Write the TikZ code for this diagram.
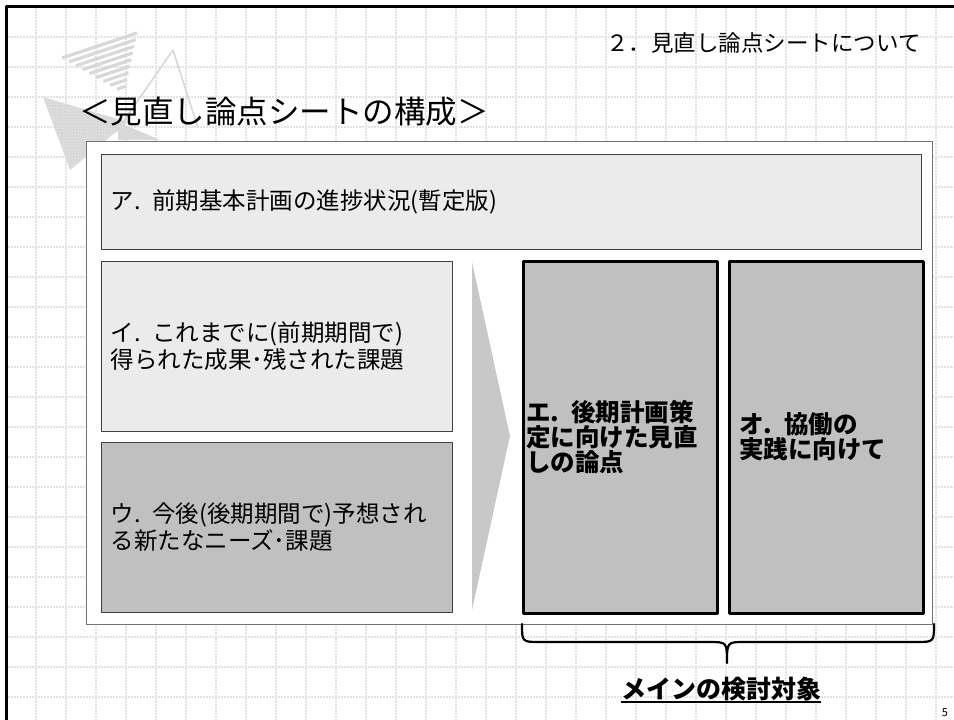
\documentclass[tikz,border=0pt]{standalone}
\usepackage{fontspec}
\setmainfont{Noto Sans CJK JP}
\usetikzlibrary{calc, patterns}

\definecolor{gridgray}{HTML}{E2E2E2}
\definecolor{panelgray}{HTML}{EBEBEB}
\definecolor{fieldgray}{HTML}{C0C0C0}
\definecolor{arrowgray}{HTML}{C8C8C8}
\definecolor{decogray}{HTML}{D8D8D8}

\tikzset{
  gridline/.style={gridgray, line width=1.5pt, dash pattern=on 2pt off 1pt},
  sheetframe/.style={draw=black!55, fill=white, line width=1pt, anchor=north west,
    minimum width=846pt, minimum height=483pt},
  panel/.style={draw=black!75, fill=panelgray, line width=1pt, anchor=north west,
    align=left, inner xsep=9pt, font=\fontsize{23.5}{27}\selectfont},
  field/.style={panel, fill=fieldgray},
  keybox/.style={draw=black, fill=fieldgray, line width=3pt, anchor=north west,
    align=left, minimum height=352pt, font=\fontsize{24.5}{25}\selectfont\bfseries},
  bracestroke/.style={line width=2.2pt, line cap=round},
}

\begin{document}
\begin{tikzpicture}[x=1pt, y=-1pt, line join=round]
\useasboundingbox (0,0) rectangle (954,720);
\fill[white] (0,0) rectangle (954,720);

% dotted background grid
\foreach \gx in {36,66,...,936}
  \draw[gridline] (\gx,8) -- (\gx,720);
\foreach \gy in {37,67,...,727}
  \draw[gridline] (8,\gy) -- (954,\gy);

% page edges
\draw[line width=3pt] (6.5,720) -- (6.5,6.5) -- (954,6.5);

% corner logo
\coordinate (s1) at (62,58);
\coordinate (s2) at (137,33);
\coordinate (s3) at (124,93);
\foreach \k in {0,...,8}
  \draw[decogray, line width=3.2pt]
    ($(s1)!\k/9!(s3)$) -- ($(s2)!\k/9!(s3)$);
\coordinate (d1) at (43,97);
\coordinate (d2) at (128,122);
\coordinate (d3) at (70,170);
\fill[decogray] (d1) -- (d2) -- (d3) -- cycle;
\fill[pattern=dots, pattern color=white] (d1) -- (d2) -- (d3) -- cycle;
\coordinate (t1) at (173,50);
\coordinate (t2) at (116,132);
\coordinate (t3) at (198,128);
\draw[decogray, line width=1.6pt] (t2) -- (t1) -- (t3);
\fill[decogray] (118,122) -- (160,140) -- (118,140) -- cycle;

% headings
\node[font=\fontsize{22.5}{22.5}\selectfont, anchor=east, inner sep=0pt] (section) at (921,43) {２．見直し論点シートについて};
\node[font=\fontsize{31.5}{31.5}\selectfont, anchor=west, inner sep=0pt] (heading) at (79,112) {＜見直し論点シートの構成＞};

% the sheet and its fields
\node[sheetframe] (sheet) at (86,141) {};
\node[panel, text width=802pt, minimum height=95pt] (progress) at (101,154) {ア. 前期基本計画の進捗状況(暫定版)};
\node[panel, text width=333pt, minimum height=170pt] (results) at (101,261) {イ. これまでに(前期期間で)\\得られた成果･残された課題};
\node[field, text width=333pt, minimum height=170pt] (needs) at (101,442) {ウ. 今後(後期期間で)予想され\\る新たなニーズ･課題};

% wedge pointing to the main fields
\coordinate (wedge top) at (472,262);
\coordinate (wedge tip) at (510,436);
\coordinate (wedge bottom) at (472,610);
\fill[arrowgray] (wedge top) -- (wedge tip) -- (wedge bottom) -- cycle;

\node[keybox, inner xsep=3pt, text width=188pt] (review) at (521.5,259.5) {エ. 後期計画策\\定に向けた見直\\しの論点};
\node[keybox, inner xsep=10pt, text width=174pt] (practice) at (727.5,259.5) {オ. 協働の\\実践に向けて};

% brace under the main fields
\coordinate (brace left) at (522,624);
\coordinate (brace right) at (934,624);
\coordinate (brace tip) at (727,663);
\draw[bracestroke] (brace left) .. controls (522,642) .. (540,642) -- (709,642)
  .. controls (727,642) .. (brace tip) .. controls (727,642) .. (745,642)
  -- (916,642) .. controls (934,642) .. (brace right);

\node[font=\fontsize{25}{25}\selectfont\bfseries, inner sep=0pt, anchor=base] (focus) at (721,698.5) {メインの検討対象};
\draw[line width=2pt] ([yshift=-3.5pt]focus.base west) -- ([yshift=-3.5pt]focus.base east);

\node[font=\fontsize{11}{11}\selectfont, inner sep=0pt] (pageno) at (945,713) {5};
\end{tikzpicture}
\end{document}
